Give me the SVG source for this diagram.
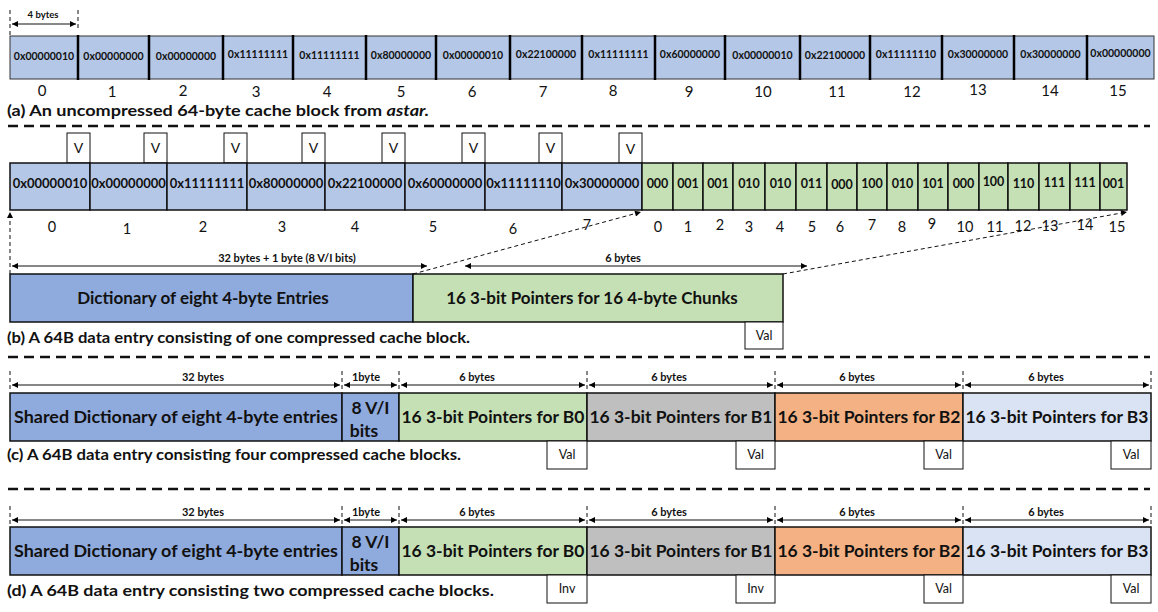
<svg xmlns="http://www.w3.org/2000/svg" width="1158" height="612" viewBox="0 0 1158 612">
<defs>
<marker id="ah" viewBox="0 0 10 10" refX="10" refY="5" markerWidth="7" markerHeight="6" markerUnits="userSpaceOnUse" orient="auto-start-reverse"><path d="M0,0 L10,5 L0,10 z" fill="#000"/></marker>
</defs>
<style>
text{font-family:Lato,'Open Sans',sans-serif;fill:#111}
.hexa{font-size:10.5px;font-weight:700;text-anchor:middle}
.hexb{font-size:13px;font-weight:700;text-anchor:middle}
.bits{font-size:12.5px;font-weight:700;text-anchor:middle}
.idx{font-size:15px;text-anchor:middle}
.idxb{font-size:14.5px;text-anchor:middle}
.dim{font-size:11px;font-weight:700;text-anchor:middle}
.cap{font-size:15.5px;font-weight:700}
.big{font-size:17px;font-weight:700;text-anchor:middle}
.big16{font-size:17.5px;font-weight:700;text-anchor:middle}
.small{font-size:12.5px;text-anchor:middle}
.vt{font-size:14px;text-anchor:middle}
.c1{fill:#B4C7E7;stroke:#333;stroke-width:1}
.c2{fill:#B4C7E7;stroke:#111;stroke-width:1.5}
.g{fill:#C5E0B4;stroke:#111;stroke-width:1.5}
.blue{fill:#8FAADC;stroke:#111;stroke-width:1.5}
.green{fill:#C5E0B4;stroke:#111;stroke-width:1.5}
.gray{fill:#BFBFBF;stroke:#111;stroke-width:1.5}
.orange{fill:#F4B183;stroke:#111;stroke-width:1.5}
.lblue{fill:#DAE3F3;stroke:#111;stroke-width:1.5}
.box{fill:#fff;stroke:#111;stroke-width:1}
.div{stroke:#000;stroke-width:2.5}
.sep{stroke:#111;stroke-width:2.5;stroke-dasharray:10 6;fill:none}
.tick{stroke:#111;stroke-width:1;stroke-dasharray:4 3;fill:none}
.arr{stroke:#111;stroke-width:1;fill:none;marker-start:url(#ah);marker-end:url(#ah)}
.dash{stroke:#111;stroke-width:1;stroke-dasharray:4 3;fill:none;marker-end:url(#ah)}
</style>

<!-- Section (a) -->
<g id="a-dim">
<line class="tick" x1="10" y1="10" x2="10" y2="36"/>
<line class="tick" x1="78" y1="10" x2="78" y2="28"/>
<line class="arr" x1="12" y1="24" x2="76" y2="24"/>
<text class="dim" x="43" y="18" style="font-size:9.5px">4 bytes</text>
</g>
<g id="a-cell0"><rect class="c1" x="10" y="36" width="68" height="43"/><text class="hexa" x="44" y="60">0x00000010</text></g>
<g id="a-cell1"><rect class="c1" x="78" y="36" width="71" height="43"/><text class="hexa" x="113.5" y="60">0x00000000</text></g>
<g id="a-cell2"><rect class="c1" x="149" y="36" width="74" height="43"/><text class="hexa" x="186" y="60">0x00000000</text></g>
<g id="a-cell3"><rect class="c1" x="223" y="36" width="70" height="43"/><text class="hexa" x="258" y="58">0x11111111</text></g>
<g id="a-cell4"><rect class="c1" x="293" y="36" width="73" height="43"/><text class="hexa" x="329.5" y="59">0x11111111</text></g>
<g id="a-cell5"><rect class="c1" x="366" y="36" width="70" height="43"/><text class="hexa" x="401" y="59">0x80000000</text></g>
<g id="a-cell6"><rect class="c1" x="436" y="36" width="74" height="43"/><text class="hexa" x="473" y="59">0x00000010</text></g>
<g id="a-cell7"><rect class="c1" x="510" y="36" width="72" height="43"/><text class="hexa" x="546" y="58">0x22100000</text></g>
<g id="a-cell8"><rect class="c1" x="582" y="36" width="73" height="43"/><text class="hexa" x="618.5" y="58">0x11111111</text></g>
<g id="a-cell9"><rect class="c1" x="655" y="36" width="70" height="43"/><text class="hexa" x="690" y="58">0x60000000</text></g>
<g id="a-cell10"><rect class="c1" x="725" y="36" width="75" height="43"/><text class="hexa" x="762.5" y="59">0x00000010</text></g>
<g id="a-cell11"><rect class="c1" x="800" y="36" width="70" height="43"/><text class="hexa" x="835" y="59">0x22100000</text></g>
<g id="a-cell12"><rect class="c1" x="870" y="36" width="72" height="43"/><text class="hexa" x="906" y="58">0x11111110</text></g>
<g id="a-cell13"><rect class="c1" x="942" y="36" width="72" height="43"/><text class="hexa" x="978" y="58">0x30000000</text></g>
<g id="a-cell14"><rect class="c1" x="1014" y="36" width="73" height="43"/><text class="hexa" x="1050.5" y="58">0x30000000</text></g>
<g id="a-cell15"><rect class="c1" x="1087" y="36" width="67" height="43"/><text class="hexa" x="1120.5" y="57">0x00000000</text></g>
<g id="a-dividers">
<line class="div" x1="78" y1="35" x2="78" y2="80"/><line class="div" x1="149" y1="35" x2="149" y2="80"/><line class="div" x1="223" y1="35" x2="223" y2="80"/><line class="div" x1="293" y1="35" x2="293" y2="80"/><line class="div" x1="366" y1="35" x2="366" y2="80"/><line class="div" x1="436" y1="35" x2="436" y2="80"/><line class="div" x1="510" y1="35" x2="510" y2="80"/><line class="div" x1="582" y1="35" x2="582" y2="80"/><line class="div" x1="655" y1="35" x2="655" y2="80"/><line class="div" x1="725" y1="35" x2="725" y2="80"/><line class="div" x1="800" y1="35" x2="800" y2="80"/><line class="div" x1="870" y1="35" x2="870" y2="80"/><line class="div" x1="942" y1="35" x2="942" y2="80"/><line class="div" x1="1014" y1="35" x2="1014" y2="80"/><line class="div" x1="1087" y1="35" x2="1087" y2="80"/>
</g>
<g id="a-index">
<text class="idx" x="42" y="96">0</text><text class="idx" x="112" y="97">1</text><text class="idx" x="183" y="96">2</text><text class="idx" x="256" y="97">3</text><text class="idx" x="327" y="97">4</text><text class="idx" x="401" y="97">5</text><text class="idx" x="472" y="97">6</text><text class="idx" x="543" y="97">7</text><text class="idx" x="613" y="96">8</text><text class="idx" x="689" y="97">9</text><text class="idx" x="763" y="97">10</text><text class="idx" x="837" y="97">11</text><text class="idx" x="912" y="97">12</text><text class="idx" x="978" y="95">13</text><text class="idx" x="1050" y="96">14</text><text class="idx" x="1118" y="96">15</text>
</g>
<text class="cap" x="7" y="116" textLength="422" lengthAdjust="spacingAndGlyphs">(a) An uncompressed 64-byte cache block from <tspan font-style="italic">astar.</tspan></text>
<line class="sep" x1="8" y1="126" x2="1150" y2="126"/>

<!-- Section (b) -->
<g id="b-vbits">
<rect class="box" x="67" y="133" width="23" height="30"/><text class="vt" x="78.5" y="153">V</text>
<rect class="box" x="144" y="133" width="23" height="30"/><text class="vt" x="155.5" y="153">V</text>
<rect class="box" x="224" y="133" width="23" height="30"/><text class="vt" x="235.5" y="153">V</text>
<rect class="box" x="302" y="133" width="23" height="30"/><text class="vt" x="313.5" y="153">V</text>
<rect class="box" x="382" y="133" width="23" height="30"/><text class="vt" x="393.5" y="153">V</text>
<rect class="box" x="462" y="133" width="23" height="30"/><text class="vt" x="473.5" y="153">V</text>
<rect class="box" x="539" y="133" width="23" height="30"/><text class="vt" x="550.5" y="153">V</text>
<rect class="box" x="619" y="133" width="23" height="30"/><text class="vt" x="630.5" y="154">V</text>
</g>
<g id="b-dict0"><rect class="c2" x="10" y="163" width="80" height="47"/><text class="hexb" x="50" y="188">0x00000010</text></g>
<g id="b-dict1"><rect class="c2" x="90" y="163" width="77" height="47"/><text class="hexb" x="128.5" y="188">0x00000000</text></g>
<g id="b-dict2"><rect class="c2" x="167" y="163" width="80" height="47"/><text class="hexb" x="207" y="188">0x11111111</text></g>
<g id="b-dict3"><rect class="c2" x="247" y="163" width="78" height="47"/><text class="hexb" x="286" y="188">0x80000000</text></g>
<g id="b-dict4"><rect class="c2" x="325" y="163" width="80" height="47"/><text class="hexb" x="365" y="188">0x22100000</text></g>
<g id="b-dict5"><rect class="c2" x="405" y="163" width="80" height="47"/><text class="hexb" x="445" y="188">0x60000000</text></g>
<g id="b-dict6"><rect class="c2" x="485" y="163" width="77" height="47"/><text class="hexb" x="523.5" y="188">0x11111110</text></g>
<g id="b-dict7"><rect class="c2" x="562" y="163" width="80" height="47"/><text class="hexb" x="602" y="188">0x30000000</text></g>
<g id="b-ptrs">
<rect class="g" x="642" y="163" width="31" height="47"/><text class="bits" x="657.5" y="188">000</text>
<rect class="g" x="673" y="163" width="30" height="47"/><text class="bits" x="688" y="188">001</text>
<rect class="g" x="703" y="163" width="30" height="47"/><text class="bits" x="718" y="188">001</text>
<rect class="g" x="733" y="163" width="32" height="47"/><text class="bits" x="749" y="188">010</text>
<rect class="g" x="765" y="163" width="31" height="47"/><text class="bits" x="780.5" y="188">010</text>
<rect class="g" x="796" y="163" width="31" height="47"/><text class="bits" x="811.5" y="188">011</text>
<rect class="g" x="827" y="163" width="30" height="47"/><text class="bits" x="842" y="189">000</text>
<rect class="g" x="857" y="163" width="30" height="47"/><text class="bits" x="872" y="188">100</text>
<rect class="g" x="887" y="163" width="31" height="47"/><text class="bits" x="902.5" y="188">010</text>
<rect class="g" x="918" y="163" width="30" height="47"/><text class="bits" x="933" y="188">101</text>
<rect class="g" x="948" y="163" width="31" height="47"/><text class="bits" x="963.5" y="188">000</text>
<rect class="g" x="979" y="163" width="29" height="47"/><text class="bits" x="993.5" y="186">100</text>
<rect class="g" x="1008" y="163" width="31" height="47"/><text class="bits" x="1023.5" y="188">110</text>
<rect class="g" x="1039" y="163" width="31" height="47"/><text class="bits" x="1054.5" y="187">111</text>
<rect class="g" x="1070" y="163" width="30" height="47"/><text class="bits" x="1085" y="187">111</text>
<rect class="g" x="1100" y="163" width="27" height="47"/><text class="bits" x="1113.5" y="188">001</text>
</g>
<g id="b-index">
<text class="idxb" x="52" y="232">0</text><text class="idxb" x="127" y="234">1</text><text class="idxb" x="203" y="232">2</text><text class="idxb" x="282" y="232">3</text><text class="idxb" x="355" y="232">4</text><text class="idxb" x="433" y="232">5</text><text class="idxb" x="513" y="234">6</text><text class="idxb" x="587" y="230">7</text>
<text class="idxb" x="658" y="232">0</text><text class="idxb" x="688" y="232">1</text><text class="idxb" x="720" y="230">2</text><text class="idxb" x="749" y="232">3</text><text class="idxb" x="780" y="232">4</text><text class="idxb" x="812" y="232">5</text><text class="idxb" x="840" y="232">6</text><text class="idxb" x="872" y="230">7</text><text class="idxb" x="902" y="232">8</text><text class="idxb" x="932" y="229">9</text><text class="idxb" x="965" y="232">10</text><text class="idxb" x="995" y="232">11</text><text class="idxb" x="1023" y="231">12</text><text class="idxb" x="1050" y="231">13</text><text class="idxb" x="1085" y="230">14</text><text class="idxb" x="1117" y="232">15</text>
</g>
<g id="b-dims">
<line class="arr" x1="12" y1="266" x2="427" y2="266"/>
<text class="dim" x="287" y="262">32 bytes + 1 byte (8 V/I bits)</text>
<line class="arr" x1="465" y1="266" x2="807" y2="266"/>
<text class="dim" x="623" y="262">6 bytes</text>
</g>
<g id="b-dictionary"><rect class="blue" x="10" y="274" width="403" height="48"/><text class="big" x="203" y="304">Dictionary of eight 4-byte Entries</text></g>
<g id="b-pointers"><rect class="green" x="413" y="274" width="370" height="48"/><text class="big" x="592" y="304">16 3-bit Pointers for 16 4-byte Chunks</text></g>
<g id="b-val"><rect class="box" x="745" y="322" width="38" height="27"/><text class="small" x="764" y="340">Val</text></g>
<g id="b-connectors">
<line class="dash" x1="10" y1="274" x2="10" y2="212"/>
<line class="dash" x1="413" y1="274" x2="641" y2="212"/>
<line class="dash" x1="783" y1="274" x2="1127" y2="212"/>
</g>
<text class="cap" x="7" y="343" textLength="463" lengthAdjust="spacingAndGlyphs">(b) A 64B data entry consisting of one compressed cache block.</text>
<line class="sep" x1="8" y1="357" x2="1150" y2="357"/>

<!-- Section (c) -->
<g id="c-dims">
<line class="tick" x1="10" y1="371" x2="10" y2="392"/><line class="tick" x1="342" y1="371" x2="342" y2="390"/><line class="tick" x1="399" y1="371" x2="399" y2="390"/><line class="tick" x1="587" y1="371" x2="587" y2="390"/><line class="tick" x1="775" y1="371" x2="775" y2="390"/><line class="tick" x1="963" y1="371" x2="963" y2="390"/><line class="tick" x1="1151" y1="371" x2="1151" y2="390"/>
<line class="arr" x1="12" y1="385" x2="340" y2="385"/><line class="arr" x1="344" y1="385" x2="397" y2="385"/><line class="arr" x1="401" y1="385" x2="585" y2="385"/><line class="arr" x1="589" y1="385" x2="773" y2="385"/><line class="arr" x1="777" y1="385" x2="961" y2="385"/><line class="arr" x1="965" y1="385" x2="1149" y2="385"/>
<text class="dim" x="203" y="381">32 bytes</text><text class="dim" x="366" y="381">1byte</text><text class="dim" x="477" y="381">6 bytes</text><text class="dim" x="669" y="381">6 bytes</text><text class="dim" x="857" y="381">6 bytes</text><text class="dim" x="1046" y="381">6 bytes</text>
</g>
<g id="c-dict"><rect class="blue" x="10" y="393" width="332" height="48"/><text class="big16" x="176" y="423" textLength="324" lengthAdjust="spacingAndGlyphs">Shared Dictionary of eight 4-byte entries</text></g>
<g id="c-vi"><rect class="blue" x="342" y="393" width="57" height="48"/><text class="big16" x="370.5" y="414">8 V/I</text><text class="big16" x="364" y="437">bits</text></g>
<g id="c-b0"><rect class="green" x="399" y="393" width="188" height="48"/><text class="big16" x="493" y="423" textLength="183" lengthAdjust="spacingAndGlyphs">16 3-bit Pointers for B0</text></g>
<g id="c-b1"><rect class="gray" x="587" y="393" width="188" height="48"/><text class="big16" x="681" y="423" textLength="183" lengthAdjust="spacingAndGlyphs">16 3-bit Pointers for B1</text></g>
<g id="c-b2"><rect class="orange" x="775" y="393" width="188" height="48"/><text class="big16" x="869" y="423" textLength="183" lengthAdjust="spacingAndGlyphs">16 3-bit Pointers for B2</text></g>
<g id="c-b3"><rect class="lblue" x="963" y="393" width="188" height="48"/><text class="big16" x="1057" y="423" textLength="183" lengthAdjust="spacingAndGlyphs">16 3-bit Pointers for B3</text></g>
<g id="c-flags">
<rect class="box" x="547" y="441" width="40" height="28"/><text class="small" x="567" y="459">Val</text>
<rect class="box" x="736" y="441" width="39" height="28"/><text class="small" x="755.5" y="459">Val</text>
<rect class="box" x="924" y="441" width="39" height="28"/><text class="small" x="943.5" y="459">Val</text>
<rect class="box" x="1111" y="441" width="40" height="28"/><text class="small" x="1131" y="459">Val</text>
</g>
<text class="cap" x="7" y="460" textLength="454" lengthAdjust="spacingAndGlyphs">(c) A 64B data entry consisting four compressed cache blocks.</text>
<line class="sep" x1="8" y1="489" x2="1150" y2="489"/>

<!-- Section (d) -->
<g id="d-dims">
<line class="tick" x1="10" y1="506" x2="10" y2="527"/><line class="tick" x1="342" y1="506" x2="342" y2="524"/><line class="tick" x1="399" y1="506" x2="399" y2="524"/><line class="tick" x1="587" y1="506" x2="587" y2="524"/><line class="tick" x1="775" y1="506" x2="775" y2="524"/><line class="tick" x1="963" y1="506" x2="963" y2="524"/><line class="tick" x1="1151" y1="506" x2="1151" y2="524"/>
<line class="arr" x1="12" y1="520" x2="340" y2="520"/><line class="arr" x1="344" y1="520" x2="397" y2="520"/><line class="arr" x1="401" y1="520" x2="585" y2="520"/><line class="arr" x1="589" y1="520" x2="773" y2="520"/><line class="arr" x1="777" y1="520" x2="961" y2="520"/><line class="arr" x1="965" y1="520" x2="1149" y2="520"/>
<text class="dim" x="203" y="516">32 bytes</text><text class="dim" x="366" y="516">1byte</text><text class="dim" x="477" y="516">6 bytes</text><text class="dim" x="669" y="516">6 bytes</text><text class="dim" x="857" y="516">6 bytes</text><text class="dim" x="1046" y="516">6 bytes</text>
</g>
<g id="d-dict"><rect class="blue" x="10" y="527" width="332" height="48"/><text class="big16" x="176" y="557" textLength="324" lengthAdjust="spacingAndGlyphs">Shared Dictionary of eight 4-byte entries</text></g>
<g id="d-vi"><rect class="blue" x="342" y="527" width="57" height="48"/><text class="big16" x="370.5" y="548">8 V/I</text><text class="big16" x="364" y="571">bits</text></g>
<g id="d-b0"><rect class="green" x="399" y="527" width="188" height="48"/><text class="big16" x="493" y="557" textLength="183" lengthAdjust="spacingAndGlyphs">16 3-bit Pointers for B0</text></g>
<g id="d-b1"><rect class="gray" x="587" y="527" width="188" height="48"/><text class="big16" x="681" y="557" textLength="183" lengthAdjust="spacingAndGlyphs">16 3-bit Pointers for B1</text></g>
<g id="d-b2"><rect class="orange" x="775" y="527" width="188" height="48"/><text class="big16" x="869" y="557" textLength="183" lengthAdjust="spacingAndGlyphs">16 3-bit Pointers for B2</text></g>
<g id="d-b3"><rect class="lblue" x="963" y="527" width="188" height="48"/><text class="big16" x="1057" y="557" textLength="183" lengthAdjust="spacingAndGlyphs">16 3-bit Pointers for B3</text></g>
<g id="d-flags">
<rect class="box" x="547" y="575" width="40" height="28"/><text class="small" x="567" y="593">Inv</text>
<rect class="box" x="736" y="575" width="39" height="28"/><text class="small" x="755.5" y="593">Inv</text>
<rect class="box" x="924" y="575" width="39" height="28"/><text class="small" x="943.5" y="593">Val</text>
<rect class="box" x="1111" y="575" width="40" height="28"/><text class="small" x="1131" y="593">Val</text>
</g>
<text class="cap" x="7" y="596" textLength="487" lengthAdjust="spacingAndGlyphs">(d) A 64B data entry consisting two compressed cache blocks.</text>
</svg>
